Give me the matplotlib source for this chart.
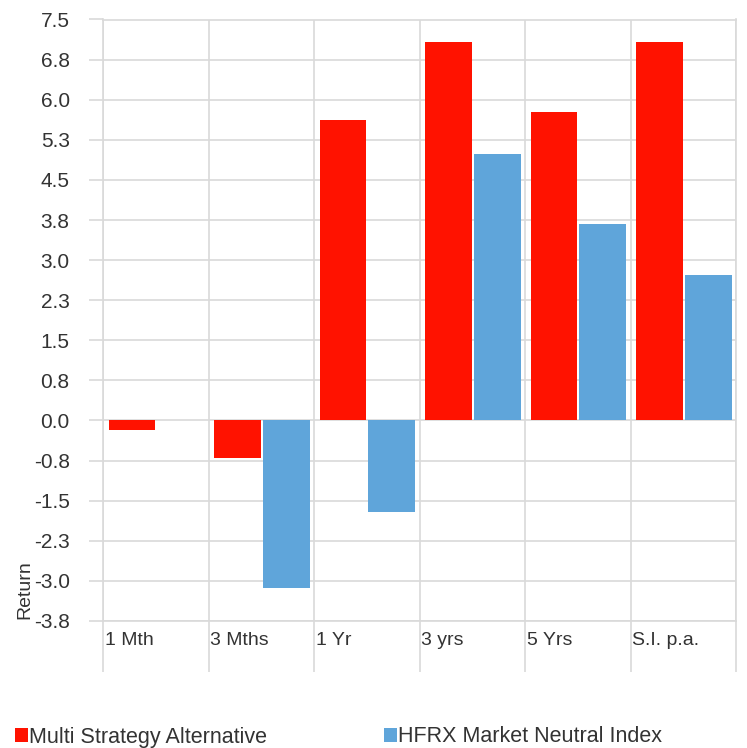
import numpy as np
import matplotlib.pyplot as plt
from matplotlib.patches import Patch

periods = ['1 Mth', '3 Mths', '1 Yr', '3 yrs', '5 Yrs', 'S.I. p.a.']
multi_strategy = [-0.18, -0.71, 5.62, 7.08, 5.77, 7.08]
hfrx_neutral = [0.0, -3.14, -1.72, 4.98, 3.67, 2.73]
ytick_values = [-3.75, -3.0, -2.25, -1.5, -0.75, 0.0, 0.75, 1.5, 2.25,
                3.0, 3.75, 4.5, 5.25, 6.0, 6.75, 7.5]
ytick_labels = ['-3.8', '-3.0', '-2.3', '-1.5', '-0.8', '0.0', '0.8', '1.5', '2.3',
                '3.0', '3.8', '4.5', '5.3', '6.0', '6.8', '7.5']

red = '#FF1200'
blue = '#5FA5DA'
grid_c = '#D9D9D9'
text_c = '#333333'

plt.rcParams['font.family'] = ['Liberation Sans', 'DejaVu Sans']

fig = plt.figure(figsize=(7.47, 7.48), dpi=100)
ax = fig.add_axes([103/747, 1 - 621/748, (736-103)/747, (621-19.5)/748])

x = np.arange(len(periods))
w = 0.445
ax.bar(x + 0.275, multi_strategy, w, color=red, zorder=3)
ax.bar(x + 0.735, hfrx_neutral, w, color=blue, zorder=3)

ax.set_xlim(0, len(periods))
ax.set_ylim(ytick_values[0], ytick_values[-1])
ax.set_yticks(ytick_values)
ax.set_yticklabels(ytick_labels)
ax.set_xticks(np.arange(len(periods) + 1))
ax.set_xticklabels([])
ax.grid(True, color=grid_c, linewidth=1.2, zorder=0)
ax.set_axisbelow(True)
for s in ax.spines.values():
    s.set_color(grid_c)
    s.set_linewidth(1.2)
ax.tick_params(axis='y', length=10, width=1.2, color=grid_c, pad=14, labelcolor=text_c, labelsize=15)
ax.tick_params(axis='x', length=36.7, width=1.2, color=grid_c)

for i, p in enumerate(periods):
    ax.text(i + 0.015, -0.0316, p, transform=ax.get_xaxis_transform(),
            ha='left', va='center', color=text_c, fontsize=14)

fig.text(25/747, 1 - 590/748, 'Return', rotation=90, ha='center', va='center',
         color=text_c, fontsize=14)

for lbl, col, xpos in [('Multi Strategy Alternative', red, 15/747),
                       ('HFRX Market Neutral Index', blue, 384/747)]:
    fig.legend(handles=[Patch(facecolor=col, edgecolor='none', label=lbl)],
               loc='center left', bbox_to_anchor=(xpos, 1 - 737/748),
               frameon=False, handlelength=0.6, handleheight=0.6,
               handletextpad=0.05, borderpad=0, borderaxespad=0,
               labelcolor=text_c, fontsize=15.5)

fig.savefig('out.png', dpi=100)
